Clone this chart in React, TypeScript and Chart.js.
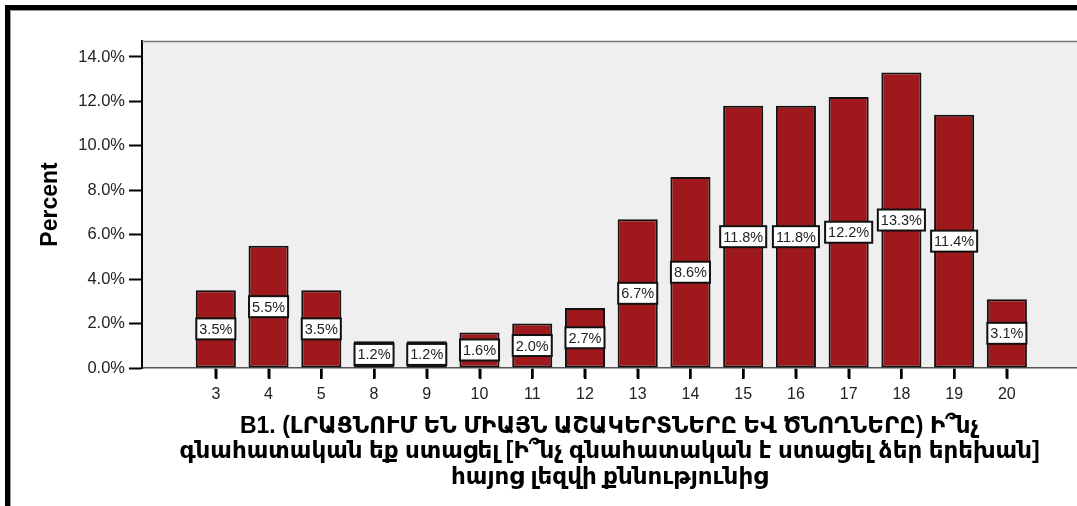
import { useEffect, useRef } from 'react';
import { Chart, registerables } from 'chart.js';

Chart.register(...registerables);

// Grade categories and the share of respondents for each
const categories = ['3', '4', '5', '8', '9', '10', '11', '12', '13', '14', '15', '16', '17', '18', '19', '20'];
const percents = [3.5, 5.5, 3.5, 1.2, 1.2, 1.6, 2.0, 2.7, 6.7, 8.6, 11.8, 11.8, 12.2, 13.3, 11.4, 3.1];
const yTickValues = [0, 2, 4, 6, 8, 10, 12, 14];
const yAxisTitle = 'Percent';
const xAxisTitle = [
  'B1. (ԼՐԱՑՆՈՒՄ ԵՆ ՄԻԱՅՆ ԱՇԱԿԵՐՏՆԵՐԸ ԵՎ ԾՆՈՂՆԵՐԸ) Ի՞նչ',
  'գնահատական եք ստացել [Ի՞նչ գնահատական է ստացել ձեր երեխան]',
  'հայոց լեզվի քննությունից',
];

const FONT = '"Liberation Sans", Arial, "DejaVu Sans", sans-serif';
const BAR_FILL = '#9e181c';
const PLOT_BG = '#efefef';
const X_TICK_LENGTH = 10;

// Grey plot background, a thin top border and the category tick marks
const plotFrame = {
  id: 'plotFrame',
  beforeDraw(chart: any) {
    const { ctx, chartArea } = chart;
    ctx.save();
    ctx.fillStyle = PLOT_BG;
    ctx.fillRect(chartArea.left, chartArea.top, chartArea.right - chartArea.left, chartArea.bottom - chartArea.top);
    ctx.restore();
  },
  afterDraw(chart: any) {
    const { ctx, chartArea } = chart;
    const xScale = chart.scales.x;
    ctx.save();
    ctx.strokeStyle = '#777';
    ctx.lineWidth = 1.5;
    ctx.beginPath();
    ctx.moveTo(chartArea.left, chartArea.top + 0.5);
    ctx.lineTo(chartArea.right, chartArea.top + 0.5);
    ctx.stroke();

    ctx.fillStyle = '#000';
    categories.forEach((_, i) => {
      const px = Math.round(xScale.getPixelForValue(i));
      ctx.fillRect(px - 1, chartArea.bottom + 1, 2.5, X_TICK_LENGTH);
    });
    ctx.restore();
  },
};

// Boxed percentage labels at the middle of each bar
const valueLabels = {
  id: 'valueLabels',
  afterDatasetsDraw(chart: any) {
    const { ctx } = chart;
    const meta = chart.getDatasetMeta(0);
    const values = chart.data.datasets[0].data as { x: number; y: number }[];
    ctx.save();
    ctx.font = `14.5px ${FONT}`;
    ctx.textAlign = 'center';
    ctx.textBaseline = 'middle';
    meta.data.forEach((bar: any, i: number) => {
      const text = values[i].y.toFixed(1) + '%';
      const cx = bar.x;
      const cy = (bar.y + bar.base) / 2;
      const w = ctx.measureText(text).width + 6;
      const h = 21;
      ctx.fillStyle = '#ffffff';
      ctx.fillRect(cx - w / 2, cy - h / 2, w, h);
      ctx.strokeStyle = '#111';
      ctx.lineWidth = 2;
      ctx.strokeRect(cx - w / 2, cy - h / 2, w, h);
      ctx.fillStyle = '#222';
      ctx.fillText(text, cx, cy + 1);
    });
    ctx.restore();
  },
};

export default function App() {
  const canvasRef = useRef<HTMLCanvasElement | null>(null);

  useEffect(() => {
    if (!canvasRef.current) return;
    const chart = new Chart(canvasRef.current, {
      type: 'bar',
      data: {
        datasets: [
          {
            data: percents.map((v, i) => ({ x: i, y: v })),
            backgroundColor: BAR_FILL,
            borderColor: '#111',
            borderWidth: 2,
            borderSkipped: false,
            barPercentage: 0.76,
            categoryPercentage: 1,
          },
        ],
      },
      options: {
        animation: false,
        responsive: false,
        devicePixelRatio: 1,
        layout: { padding: { top: 41, left: 0, right: 0, bottom: 0 } },
        plugins: {
          legend: { display: false },
          tooltip: { enabled: false },
        },
        scales: {
          x: {
            type: 'linear',
            offset: false,
            min: -1.4,
            max: 16.33,
            afterFit(scale: any) {
              scale.height = 138;
            },
            afterBuildTicks(scale: any) {
              scale.ticks = categories.map((_, i) => ({ value: i }));
            },
            ticks: {
              stepSize: 1,
              includeBounds: false,
              autoSkip: false,
              maxRotation: 0,
              padding: 7,
              color: '#222',
              font: { family: FONT, size: 16 },
              callback: (v: any) => categories[Number(v)] ?? '',
            },
            grid: {
              display: true,
              offset: false,
              drawOnChartArea: false,
              drawTicks: true,
              tickLength: X_TICK_LENGTH,
              tickColor: '#000',
              tickWidth: 2,
            },
            border: { display: true, color: '#555', width: 1.5 },
            title: {
              display: true,
              text: xAxisTitle,
              color: '#000',
              font: { family: FONT, size: 23, weight: 'bold', lineHeight: 1.11 },
              padding: { top: 0, bottom: 16 },
            },
          },
          y: {
            min: 0,
            max: 14.72,
            afterFit(scale: any) {
              scale.width = 142;
            },
            afterBuildTicks(scale: any) {
              scale.ticks = yTickValues.map((v) => ({ value: v }));
            },
            ticks: {
              stepSize: 2,
              includeBounds: false,
              padding: 4,
              color: '#222',
              font: { family: FONT, size: 16.5 },
              callback: (v: any) => Number(v).toFixed(1) + '%',
            },
            grid: {
              display: true,
              drawOnChartArea: false,
              drawTicks: true,
              tickLength: 13,
              tickColor: '#000',
              tickWidth: 2,
            },
            border: { display: true, color: '#000', width: 2 },
            title: {
              display: true,
              text: yAxisTitle,
              color: '#000',
              font: { family: FONT, size: 23, weight: 'bold', lineHeight: 1.2 },
              padding: { top: 37, bottom: 0 },
            },
          },
        },
      },
      plugins: [plotFrame, valueLabels],
    } as any);
    return () => chart.destroy();
  }, []);

  return (
    <div style={{ position: 'absolute', left: 0, top: 0, width: 1077, height: 506, overflow: 'hidden', background: '#fff' }}>
      <div style={{ position: 'absolute', left: 5, top: 5, width: 1200, height: 700, borderTop: '5px solid #000', borderLeft: '5px solid #000' }} />
      <div style={{ position: 'absolute', left: 10, top: 10, width: 1200, height: 700, borderTop: '1px solid #999', borderLeft: '1px solid #999' }} />
      <canvas ref={canvasRef} width={1077} height={506} style={{ position: 'absolute', left: 0, top: 0 }} />
    </div>
  );
}
